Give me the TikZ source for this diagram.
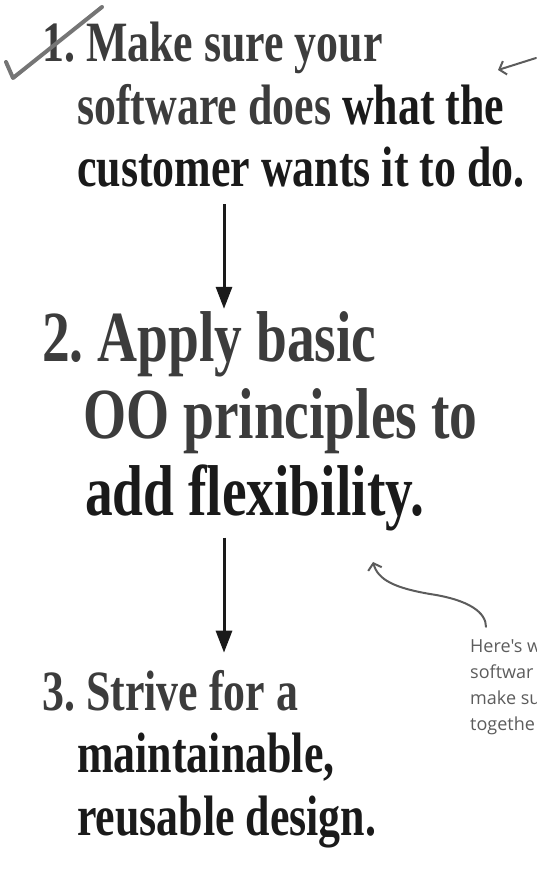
\documentclass[tikz,border=0pt]{standalone}
\usepackage{fontspec}
\newfontfamily\headfont[FakeStretch=0.77]{Liberation Serif}
\newfontfamily\notefont{Open Sans}
\usetikzlibrary{arrows.meta}
\definecolor{inkgray}{HTML}{3C3C3C}
\definecolor{inkblack}{HTML}{1A1A1A}
\definecolor{pencil}{HTML}{5C5C5C}

\begin{document}
\begin{tikzpicture}[x=1pt, y=-1pt, every node/.style={inner sep=0pt, anchor=base west, align=left, text=inkblack},
    stepsmall/.style={font=\headfont\bfseries\frenchspacing\fontsize{57}{62.5}\selectfont},
    stepbig/.style={font=\headfont\bfseries\frenchspacing\fontsize{72}{77}\selectfont},
    flow/.style={line width=3pt, draw=inkblack, -{Triangle[length=22pt,width=16pt]}},
    pen/.style={line width=2pt, draw=pencil, line cap=round, -{Straight Barb[length=6pt,width=14pt]}}]
				\useasboundingbox (0,0) rectangle (536,874);
				\node[stepsmall](step1) at (42,187) {{\color{inkgray}1. Make sure your}\\
					\hspace*{35pt}{\color{inkgray}software does} what the\\
					\hspace*{35pt}customer wants it to do.};
				\node[stepbig](step2) at (42,515) {{\color{inkgray}2. Apply basic}\\
					\hspace*{43pt}{\color{inkgray}\kern-2pt OO principles to}\\
					\hspace*{43pt}add flexibility.};
				\node[stepsmall](step3) at (42,835) {{\color{inkgray}3. Strive for a}\\
					\hspace*{35pt}maintainable,\\
					\hspace*{35pt}reusable design.};
				\node[font=\notefont\fontsize{18}{25.7}\selectfont, text=pencil](note) at (470,730) {Here's w\\softwar\\make su\\togethe};
				\coordinate (spine) at (224,0);
				\coordinate (margin) at (536,58);
				\coordinate (margintip) at (498,70);
				\coordinate (hook) at (373,562);
				\draw[flow] ([yshift=-16pt]step1.south -| spine) -- ([yshift=2pt]step2.north -| spine);
				\draw[flow] ([yshift=-7pt]step2.south -| spine) -- ([yshift=17pt]step3.north -| spine);
				\draw[pen] (margin) -- (margintip);
				\draw[pen] ([xshift=16pt,yshift=13pt]note.north west) .. controls +(0,-14) and (470,600) .. (430,594) .. controls (395,588) and (378,580) .. (hook);
				\draw[line width=4pt, pencil!85, line cap=round, line join=round] (6,62) -- (13,78) -- (102,7);
		\end{tikzpicture}
\end{document}
